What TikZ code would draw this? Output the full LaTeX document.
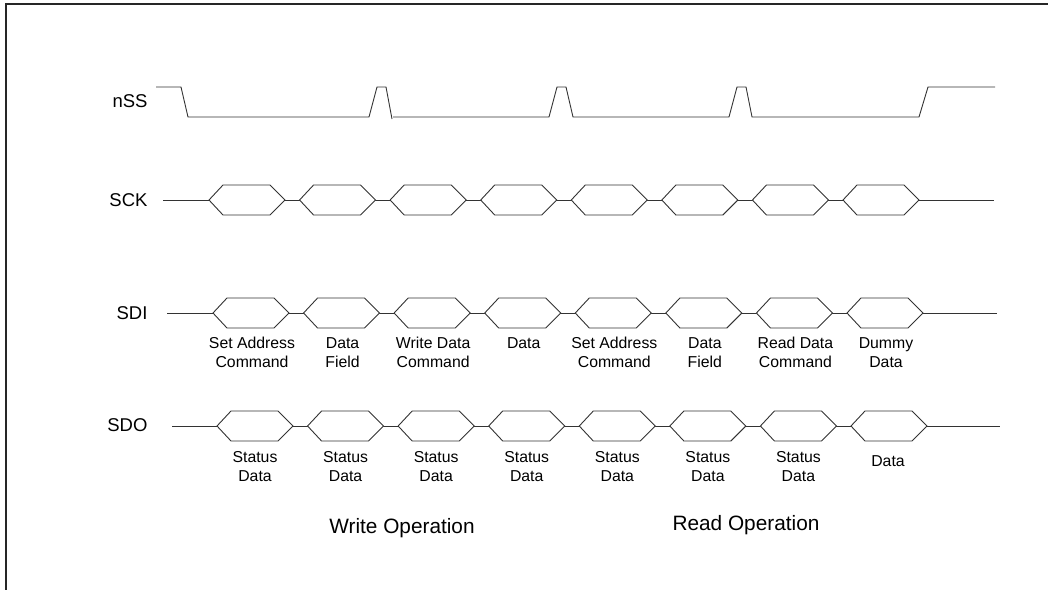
\documentclass[tikz,border=0pt]{standalone}
\usepackage{fontspec}
\setmainfont{Liberation Sans}
\usepackage{tikz}

\begin{document}
\begin{tikzpicture}[x=1pt, y=-1pt,
    wave/.style={line width=0.9pt, black!80, line join=miter},
    signame/.style={anchor=east, font=\fontsize{18.5}{22}\selectfont},
    field/.style={align=center, inner sep=0pt, font=\fontsize{15.8}{19}\selectfont},
    oplabel/.style={font=\fontsize{20.8}{24}\selectfont}]
    \useasboundingbox (0,0) rectangle (1048,590);
    \draw[line width=1.6pt, black!85] (1048,4) -- (6,4) -- (6,590);

    % signal names
    \node[signame] (nss) at (151,101) {nSS};
    \node[signame] (sck) at (151,200) {SCK};
    \node[signame] (sdi) at (151,313) {SDI};
    \node[signame] (sdo) at (151,425) {SDO};

    % chip select
    \draw[wave] (156,87) -- (181,87) -- (188,117) -- (369,117)
        -- (377,87) -- (386,87) -- (392,119);
    \draw[wave] (393,117) -- (549,117) -- (557,87) -- (566,87) -- (573,117)
        -- (729,117) -- (737,87) -- (746,87) -- (752,117)
        -- (919,117) -- (928,87) -- (995,87);

    % bus rows: start / first field / end / level
    \foreach \s/\f/\e/\y in {163/209/994/200, 167/213/997/313, 172/217/1000/426} {
        \draw[wave] (\s,\y) -- (\e,\y);
        \foreach \i in {0,...,7} {
            \pgfmathsetmacro\l{\f+90.57*\i}
            \filldraw[wave, fill=white]
                (\l,\y)
                -- ({\l+14},{\y-15})
                -- ({\l+61},{\y-15})
                -- ({\l+76},\y)
                -- ({\l+61},{\y+15})
                -- ({\l+14},{\y+15})
                -- cycle;
        }
    }

    % SDI fields
    \foreach \t/\ly [count=\i from 0] in {{Set Address\\Command}/352.5,
        {Data\\Field}/352.5, {Write Data\\Command}/352.5, Data/343,
        {Set Address\\Command}/352.5, {Data\\Field}/352.5,
        {Read Data\\Command}/352.5, {Dummy\\Data}/352.5} {
        \node[field] (sdi\i) at ({252+90.57*\i},\ly) {\t};
    }

    % SDO fields
    \foreach \i in {0,...,6} {
        \node[field] (sdo\i) at ({255+90.57*\i},466.5) {Status\\Data};
    }
    \node[field] (sdo7) at (888,461) {Data};

    \node[oplabel] (wrop) at (402,528) {Write Operation};
    \node[oplabel] (rdop) at (746,525) {Read Operation};
\end{tikzpicture}
\end{document}
